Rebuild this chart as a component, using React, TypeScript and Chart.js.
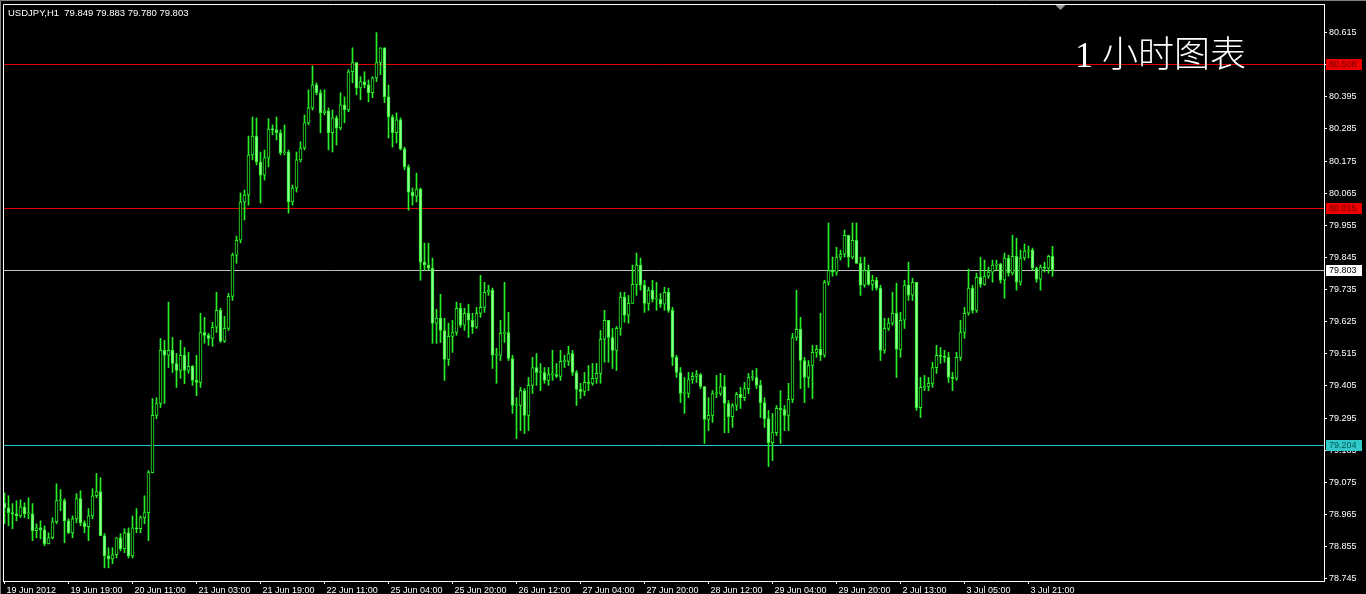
import React, { useEffect, useRef } from 'react';
import { Chart, registerables } from 'chart.js';

Chart.register(...registerables);

const symbolTitle = 'USDJPY,H1  79.849 79.883 79.780 79.803';
const chartCaption = '1 小时图表';

const opens = [
  79.005, 78.988, 78.971, 78.967, 78.960, 78.991, 78.967, 78.967, 78.909, 78.919,
  78.912, 78.864, 78.885, 78.940, 79.012, 79.012, 78.943, 78.902, 78.950, 79.019,
  78.936, 78.923, 78.960, 79.029, 79.043, 78.892, 78.823, 78.813, 78.827, 78.885,
  78.847, 78.902, 78.823, 78.919, 78.916, 78.954, 78.971, 79.108, 79.304, 79.345,
  79.527, 79.510, 79.527, 79.482, 79.458, 79.510, 79.458, 79.472, 79.424, 79.417,
  79.588, 79.578, 79.568, 79.606, 79.664, 79.558, 79.602, 79.712, 79.853, 79.904,
  80.035, 80.059, 80.196, 80.261, 80.172, 80.127, 80.186, 80.285, 80.282, 80.272,
  80.203, 80.206, 80.035, 80.083, 80.179, 80.220, 80.306, 80.357, 80.436, 80.409,
  80.340, 80.347, 80.272, 80.323, 80.289, 80.368, 80.350, 80.481, 80.512, 80.426,
  80.447, 80.436, 80.409, 80.460, 80.512, 80.563, 80.395, 80.326, 80.272, 80.316,
  80.217, 80.155, 80.069, 80.055, 80.079, 79.829, 79.819, 79.808, 79.620, 79.637,
  79.595, 79.496, 79.575, 79.588, 79.671, 79.613, 79.654, 79.630, 79.606, 79.654,
  79.674, 79.726, 79.733, 79.510, 79.510, 79.585, 79.588, 79.499, 79.338, 79.338,
  79.389, 79.304, 79.407, 79.468, 79.451, 79.451, 79.424, 79.444, 79.444, 79.438,
  79.489, 79.489, 79.516, 79.451, 79.393, 79.386, 79.417, 79.414, 79.431, 79.448,
  79.565, 79.630, 79.571, 79.527, 79.602, 79.709, 79.647, 79.688, 79.753, 79.819,
  79.750, 79.688, 79.733, 79.702, 79.702, 79.685, 79.726, 79.664, 79.503, 79.451,
  79.379, 79.379, 79.427, 79.438, 79.444, 79.403, 79.290, 79.304, 79.379, 79.379,
  79.403, 79.345, 79.300, 79.338, 79.376, 79.365, 79.396, 79.434, 79.434, 79.407,
  79.348, 79.293, 79.211, 79.245, 79.328, 79.324, 79.304, 79.359, 79.571, 79.599,
  79.492, 79.434, 79.475, 79.520, 79.530, 79.510, 79.760, 79.801, 79.795, 79.846,
  79.856, 79.921, 79.846, 79.904, 79.825, 79.750, 79.801, 79.753, 79.767, 79.740,
  79.527, 79.602, 79.620, 79.654, 79.530, 79.630, 79.750, 79.716, 79.760, 79.331,
  79.400, 79.403, 79.414, 79.468, 79.510, 79.506, 79.503, 79.434, 79.431, 79.503,
  79.588, 79.654, 79.740, 79.664, 79.777, 79.753, 79.781, 79.795, 79.819, 79.822,
  79.767, 79.843, 79.791, 79.849, 79.760, 79.843, 79.867, 79.870, 79.808, 79.771,
  79.812, 79.808, 79.849,
];

const highs = [
  79.039, 79.029, 79.002, 79.012, 79.015, 79.005, 79.022, 79.002, 78.933, 78.943,
  78.926, 78.902, 78.954, 79.070, 79.050, 79.019, 78.950, 78.960, 79.036, 79.046,
  78.943, 78.985, 79.053, 79.105, 79.091, 78.899, 78.851, 78.851, 78.885, 78.899,
  78.916, 78.919, 78.960, 78.985, 78.960, 79.029, 79.115, 79.362, 79.365, 79.568,
  79.561, 79.692, 79.571, 79.516, 79.561, 79.537, 79.520, 79.475, 79.510, 79.654,
  79.640, 79.585, 79.623, 79.726, 79.671, 79.643, 79.722, 79.860, 79.918, 80.066,
  80.076, 80.261, 80.326, 80.323, 80.206, 80.213, 80.320, 80.299, 80.326, 80.282,
  80.299, 80.213, 80.093, 80.206, 80.241, 80.333, 80.419, 80.501, 80.443, 80.419,
  80.419, 80.357, 80.350, 80.330, 80.409, 80.395, 80.488, 80.563, 80.512, 80.464,
  80.481, 80.453, 80.464, 80.615, 80.563, 80.563, 80.436, 80.333, 80.340, 80.323,
  80.223, 80.162, 80.083, 80.134, 80.083, 79.894, 79.894, 79.843, 79.668, 79.719,
  79.637, 79.620, 79.630, 79.692, 79.688, 79.671, 79.685, 79.654, 79.674, 79.784,
  79.760, 79.750, 79.740, 79.534, 79.630, 79.760, 79.657, 79.510, 79.365, 79.400,
  79.396, 79.434, 79.503, 79.516, 79.482, 79.468, 79.468, 79.527, 79.482, 79.527,
  79.510, 79.541, 79.527, 79.458, 79.414, 79.451, 79.475, 79.482, 79.482, 79.595,
  79.664, 79.630, 79.602, 79.609, 79.726, 79.726, 79.715, 79.819, 79.860, 79.843,
  79.767, 79.743, 79.767, 79.760, 79.722, 79.743, 79.740, 79.674, 79.510, 79.468,
  79.434, 79.451, 79.451, 79.458, 79.448, 79.403, 79.365, 79.389, 79.441, 79.448,
  79.441, 79.355, 79.345, 79.383, 79.400, 79.417, 79.448, 79.458, 79.465, 79.424,
  79.365, 79.321, 79.311, 79.338, 79.389, 79.338, 79.414, 79.585, 79.733, 79.640,
  79.503, 79.492, 79.544, 79.544, 79.654, 79.767, 79.963, 79.846, 79.880, 79.870,
  79.939, 79.921, 79.963, 79.963, 79.846, 79.846, 79.819, 79.784, 79.777, 79.750,
  79.637, 79.637, 79.726, 79.757, 79.657, 79.767, 79.829, 79.774, 79.760, 79.434,
  79.441, 79.434, 79.486, 79.544, 79.537, 79.527, 79.520, 79.451, 79.520, 79.630,
  79.674, 79.805, 79.750, 79.791, 79.846, 79.836, 79.812, 79.836, 79.836, 79.825,
  79.860, 79.853, 79.921, 79.911, 79.870, 79.891, 79.884, 79.877, 79.812, 79.819,
  79.829, 79.853, 79.883,
];

const lows = [
  78.933, 78.926, 78.916, 78.943, 78.954, 78.954, 78.950, 78.875, 78.885, 78.881,
  78.858, 78.864, 78.881, 78.933, 78.978, 78.868, 78.899, 78.885, 78.936, 78.926,
  78.902, 78.875, 78.950, 79.022, 78.892, 78.782, 78.782, 78.796, 78.816, 78.840,
  78.834, 78.816, 78.816, 78.902, 78.902, 78.933, 78.875, 79.108, 79.293, 79.331,
  79.345, 79.468, 79.451, 79.400, 79.431, 79.413, 79.448, 79.407, 79.372, 79.400,
  79.551, 79.544, 79.541, 79.588, 79.554, 79.554, 79.595, 79.698, 79.825, 79.895,
  79.973, 80.024, 80.179, 80.162, 80.031, 80.110, 80.155, 80.265, 80.247, 80.196,
  80.196, 79.997, 80.024, 80.069, 80.172, 80.213, 80.299, 80.350, 80.402, 80.272,
  80.333, 80.213, 80.206, 80.230, 80.282, 80.306, 80.344, 80.443, 80.402, 80.385,
  80.426, 80.378, 80.392, 80.447, 80.471, 80.375, 80.254, 80.223, 80.237, 80.213,
  80.145, 80.007, 80.024, 80.035, 79.767, 79.801, 79.801, 79.551, 79.551, 79.554,
  79.424, 79.475, 79.520, 79.578, 79.606, 79.595, 79.571, 79.585, 79.602, 79.640,
  79.657, 79.715, 79.465, 79.414, 79.492, 79.554, 79.492, 79.311, 79.225, 79.252,
  79.242, 79.252, 79.379, 79.407, 79.389, 79.414, 79.407, 79.424, 79.434, 79.424,
  79.468, 79.475, 79.441, 79.338, 79.362, 79.372, 79.389, 79.407, 79.414, 79.414,
  79.486, 79.486, 79.465, 79.458, 79.578, 79.623, 79.620, 79.688, 79.715, 79.733,
  79.657, 79.664, 79.692, 79.664, 79.674, 79.664, 79.657, 79.475, 79.434, 79.348,
  79.311, 79.365, 79.414, 79.417, 79.396, 79.208, 79.252, 79.280, 79.365, 79.372,
  79.245, 79.245, 79.263, 79.321, 79.328, 79.355, 79.379, 79.424, 79.396, 79.297,
  79.263, 79.129, 79.149, 79.235, 79.208, 79.252, 79.252, 79.348, 79.561, 79.396,
  79.348, 79.400, 79.362, 79.503, 79.492, 79.503, 79.750, 79.781, 79.784, 79.836,
  79.846, 79.812, 79.840, 79.825, 79.715, 79.743, 79.750, 79.733, 79.733, 79.492,
  79.517, 79.595, 79.613, 79.434, 79.503, 79.602, 79.698, 79.698, 79.321, 79.297,
  79.389, 79.389, 79.400, 79.448, 79.482, 79.486, 79.417, 79.389, 79.424, 79.492,
  79.568, 79.647, 79.654, 79.657, 79.743, 79.750, 79.774, 79.760, 79.801, 79.757,
  79.705, 79.781, 79.785, 79.733, 79.750, 79.836, 79.843, 79.801, 79.760, 79.733,
  79.795, 79.791, 79.780,
];

const closes = [
  78.988, 78.971, 78.967, 78.960, 78.991, 78.967, 78.967, 78.909, 78.919, 78.912,
  78.864, 78.885, 78.940, 79.012, 79.012, 78.943, 78.902, 78.950, 79.019, 78.936,
  78.923, 78.960, 79.029, 79.043, 78.892, 78.823, 78.813, 78.827, 78.885, 78.847,
  78.902, 78.823, 78.919, 78.916, 78.954, 78.971, 79.108, 79.304, 79.345, 79.527,
  79.510, 79.527, 79.482, 79.458, 79.510, 79.458, 79.472, 79.424, 79.417, 79.588,
  79.578, 79.568, 79.606, 79.664, 79.558, 79.602, 79.712, 79.853, 79.904, 80.035,
  80.059, 80.196, 80.261, 80.172, 80.127, 80.186, 80.285, 80.282, 80.272, 80.203,
  80.206, 80.035, 80.083, 80.179, 80.220, 80.306, 80.357, 80.436, 80.409, 80.340,
  80.347, 80.272, 80.323, 80.289, 80.368, 80.350, 80.481, 80.512, 80.426, 80.447,
  80.436, 80.409, 80.460, 80.512, 80.563, 80.395, 80.326, 80.272, 80.316, 80.217,
  80.155, 80.069, 80.055, 80.079, 79.829, 79.819, 79.808, 79.620, 79.637, 79.595,
  79.496, 79.575, 79.588, 79.671, 79.613, 79.654, 79.630, 79.606, 79.654, 79.674,
  79.726, 79.733, 79.510, 79.510, 79.585, 79.588, 79.499, 79.338, 79.338, 79.389,
  79.304, 79.407, 79.468, 79.451, 79.451, 79.424, 79.444, 79.444, 79.438, 79.489,
  79.489, 79.516, 79.451, 79.393, 79.386, 79.417, 79.414, 79.431, 79.448, 79.565,
  79.630, 79.571, 79.527, 79.602, 79.709, 79.647, 79.688, 79.753, 79.819, 79.750,
  79.688, 79.733, 79.702, 79.702, 79.685, 79.726, 79.664, 79.503, 79.451, 79.379,
  79.379, 79.427, 79.438, 79.444, 79.403, 79.290, 79.304, 79.379, 79.379, 79.403,
  79.345, 79.300, 79.338, 79.376, 79.365, 79.396, 79.434, 79.434, 79.407, 79.348,
  79.293, 79.211, 79.245, 79.328, 79.324, 79.304, 79.359, 79.571, 79.599, 79.492,
  79.434, 79.475, 79.520, 79.530, 79.510, 79.760, 79.801, 79.795, 79.846, 79.856,
  79.921, 79.846, 79.904, 79.825, 79.750, 79.801, 79.753, 79.767, 79.740, 79.527,
  79.602, 79.620, 79.654, 79.530, 79.630, 79.750, 79.716, 79.760, 79.331, 79.400,
  79.403, 79.414, 79.468, 79.510, 79.506, 79.503, 79.434, 79.431, 79.503, 79.588,
  79.654, 79.740, 79.664, 79.777, 79.753, 79.781, 79.795, 79.819, 79.822, 79.767,
  79.843, 79.791, 79.849, 79.760, 79.843, 79.867, 79.870, 79.808, 79.771, 79.812,
  79.808, 79.849, 79.803,
];

const xTickBars = [0, 16, 32, 48, 64, 80, 96, 112, 128, 144, 160, 176, 192, 208, 224, 240, 256];
const xTickLabels = [
  '19 Jun 2012', '19 Jun 19:00', '20 Jun 11:00', '21 Jun 03:00', '21 Jun 19:00',
  '22 Jun 11:00', '25 Jun 04:00', '25 Jun 20:00', '26 Jun 12:00', '27 Jun 04:00',
  '27 Jun 20:00', '28 Jun 12:00', '29 Jun 04:00', '29 Jun 20:00', '2 Jul 13:00',
  '3 Jul 05:00', '3 Jul 21:00',
];
const yTicks = [
  80.615, 80.505, 80.395, 80.285, 80.175, 80.065, 79.955, 79.845, 79.735,
  79.625, 79.515, 79.405, 79.295, 79.185, 79.075, 78.965, 78.855, 78.745,
];
const levelValues = [80.508, 80.015, 79.803, 79.204];

// styles (kept apart from the data)
const levelLineColors = ['#e00000', '#e00000', '#c0c0c0', '#20c8d0'];
const levelBoxColors = ['#ee0000', '#ee0000', '#ffffff', '#30c8c8'];
const levelTextColors = ['#700000', '#700000', '#000000', '#005858'];
const CANDLE = '#28f028';
const BEAR_FILL = '#90ff90';
const BULL_FILL = '#000000';
const X_MIN = -0.375;
const X_MAX = 329.875;
const Y_MIN = 78.737;
const Y_MAX = 80.713;
const AXIS_FONT = { family: '"Liberation Sans", Arial, sans-serif', size: 9 };

export default function App() {
  const canvasRef = useRef<HTMLCanvasElement | null>(null);

  useEffect(() => {
    const canvas = canvasRef.current;
    if (!canvas) return;
    const idx = closes.map((_, i) => i);

    const overlay = {
      id: 'mtOverlay',
      beforeDatasetsDraw(chart: any) {
        const { ctx, chartArea: a } = chart;
        const y = chart.scales.y;
        ctx.save();
        ctx.lineWidth = 1;
        levelValues.forEach((v, k) => {
          const py = Math.round(y.getPixelForValue(v)) + 0.5;
          ctx.strokeStyle = levelLineColors[k];
          ctx.beginPath();
          ctx.moveTo(a.left, py);
          ctx.lineTo(a.right, py);
          ctx.stroke();
        });
        ctx.restore();
      },
      afterDraw(chart: any) {
        const { ctx, chartArea: a } = chart;
        const y = chart.scales.y;
        ctx.save();
        ctx.strokeStyle = '#ffffff';
        ctx.lineWidth = 1;
        ctx.beginPath();
        ctx.moveTo(a.left + 0.5, a.bottom + 0.5);
        ctx.lineTo(a.left + 0.5, a.top + 0.5);
        ctx.lineTo(a.right + 0.5, a.top + 0.5);
        ctx.stroke();
        ctx.strokeStyle = '#808080';
        ctx.beginPath();
        ctx.moveTo(0.5, chart.height);
        ctx.lineTo(0.5, 0.5);
        ctx.lineTo(chart.width, 0.5);
        ctx.stroke();
        const sx = chart.scales.x.getPixelForValue(closes.length + 1);
        ctx.fillStyle = '#9a9a9a';
        ctx.beginPath();
        ctx.moveTo(sx - 5, a.top + 1);
        ctx.lineTo(sx + 5, a.top + 1);
        ctx.lineTo(sx, a.top + 6);
        ctx.closePath();
        ctx.fill();
        ctx.font = '9px "Liberation Sans", Arial, sans-serif';
        ctx.textBaseline = 'middle';
        ctx.textAlign = 'left';
        levelValues.forEach((v, k) => {
          const py = Math.round(y.getPixelForValue(v));
          ctx.fillStyle = levelBoxColors[k];
          ctx.fillRect(a.right + 2, py - 5, 36, 11);
          ctx.fillStyle = levelTextColors[k];
          ctx.fillText(v.toFixed(3), a.right + 5, py + 1);
        });
        ctx.restore();
      },
    };

    const chart = new Chart(canvas, {
      type: 'bar',
      data: {
        datasets: [
          {
            type: 'bar' as const,
            data: idx.map((i) => ({ x: i, y: [lows[i], highs[i]] })),
            backgroundColor: CANDLE,
            borderWidth: 0,
            barThickness: 1,
            grouped: false,
            order: 2,
          },
          {
            type: 'bar' as const,
            data: idx.map((i) => ({ x: i, y: [opens[i], closes[i]] })),
            backgroundColor: (c: any) =>
              closes[c.dataIndex] >= opens[c.dataIndex] ? BULL_FILL : BEAR_FILL,
            borderColor: CANDLE,
            borderWidth: 1,
            borderSkipped: false,
            barThickness: 3,
            minBarLength: 1,
            grouped: false,
            order: 1,
          },
        ] as any,
      },
      options: {
        animation: false,
        responsive: false,
        devicePixelRatio: 1,
        layout: { padding: { left: 3, top: 4, right: 0, bottom: 0 } },
        plugins: { legend: { display: false }, tooltip: { enabled: false } },
        scales: {
          x: {
            type: 'linear',
            min: X_MIN,
            max: X_MAX,
            offset: false,
            afterBuildTicks: (s: any) => {
              s.ticks = xTickBars.map((v) => ({ value: v }));
            },
            afterFit: (s: any) => {
              s.height = 13;
              s.paddingLeft = 0;
              s.paddingRight = 0;
            },
            ticks: {
              color: '#ffffff',
              font: AXIS_FONT,
              autoSkip: false,
              maxRotation: 0,
              minRotation: 0,
              align: 'start',
              labelOffset: 2,
              padding: 1,
              callback: (v: any) => {
                const k = xTickBars.indexOf(Number(v));
                return k >= 0 ? xTickLabels[k] : '';
              },
            },
            grid: { drawOnChartArea: false, drawTicks: true, tickLength: 3, color: '#ffffff', offset: false },
            border: { display: true, color: '#ffffff' },
          },
          y: {
            type: 'linear',
            position: 'right',
            min: Y_MIN,
            max: Y_MAX,
            afterBuildTicks: (s: any) => {
              s.ticks = yTicks.map((v) => ({ value: v }));
            },
            afterFit: (s: any) => {
              s.width = 42;
              s.paddingTop = 0;
              s.paddingBottom = 0;
            },
            ticks: {
              color: '#ffffff',
              font: AXIS_FONT,
              padding: 2,
              callback: (v: any) => Number(v).toFixed(3),
            },
            grid: { drawOnChartArea: false, drawTicks: true, tickLength: 3, color: '#ffffff' },
            border: { display: true, color: '#ffffff' },
          },
        },
      } as any,
      plugins: [overlay],
    });
    return () => chart.destroy();
  }, []);

  return (
    <div
      style={{
        position: 'absolute',
        left: 0,
        top: 0,
        width: 1366,
        height: 594,
        background: '#000000',
        overflow: 'hidden',
      }}
    >
      <canvas ref={canvasRef} width={1366} height={594} style={{ display: 'block' }} />
      <div
        style={{
          position: 'absolute',
          left: 8,
          top: 7,
          color: '#ffffff',
          fontFamily: '"Liberation Sans", Arial, sans-serif',
          fontSize: 9.5,
          lineHeight: '11px',
          whiteSpace: 'pre',
        }}
      >
        {symbolTitle}
      </div>
      <div
        style={{
          position: 'absolute',
          left: 1075,
          top: 35,
          color: '#ffffff',
          fontFamily: '"Liberation Serif", "Noto Sans CJK SC", serif',
          fontSize: 36,
          fontWeight: 300,
          lineHeight: '40px',
          whiteSpace: 'pre',
        }}
      >
        {chartCaption}
      </div>
    </div>
  );
}
